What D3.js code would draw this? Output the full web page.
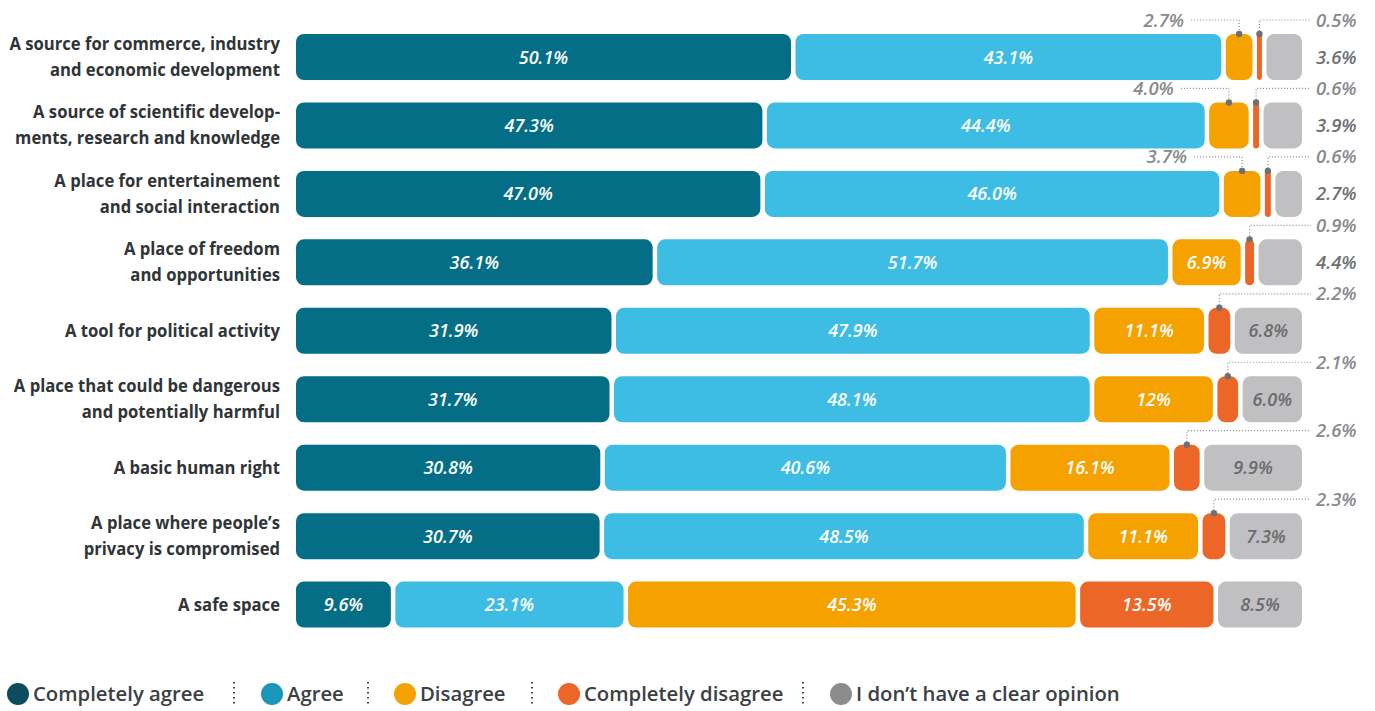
<!DOCTYPE html>
<html><head><meta charset="utf-8">
<script src="https://cdn.jsdelivr.net/npm/d3@7"></script>
<style>
body{margin:0;background:#fff;}
svg{display:block;}
</style></head>
<body>
<svg id="c" width="1375" height="711"></svg>
<script>
const categories = [
  ["A source for commerce, industry","and economic development"],
  ["A source of scientific develop-","ments, research and knowledge"],
  ["A place for entertainement","and social interaction"],
  ["A place of freedom","and opportunities"],
  ["A tool for political activity"],
  ["A place that could be dangerous","and potentially harmful"],
  ["A basic human right"],
  ["A place where people’s","privacy is compromised"],
  ["A safe space"]
];
const seriesNames = ["Completely agree","Agree","Disagree","Completely disagree","I don’t have a clear opinion"];
const completelyAgree    = ["50.1","47.3","47.0","36.1","31.9","31.7","30.8","30.7","9.6"];
const agree              = ["43.1","44.4","46.0","51.7","47.9","48.1","40.6","48.5","23.1"];
const disagree           = ["2.7","4.0","3.7","6.9","11.1","12","16.1","11.1","45.3"];
const completelyDisagree = ["0.5","0.6","0.6","0.9","2.2","2.1","2.6","2.3","13.5"];
const noOpinion          = ["3.6","3.9","2.7","4.4","6.8","6.0","9.9","7.3","8.5"];

const series = [completelyAgree, agree, disagree, completelyDisagree, noOpinion];
const barColors = ["#036e86","#3ebde4","#f5a100","#ec6628","#c0c0c2"];
const legendColors = ["#0b4d5c","#1996b9","#f5a100","#ec6628","#8c8c8c"];
const labelColors = ["#ffffff","#ffffff","#ffffff","#ffffff","#6b6b6d"];

const svg = d3.select("#c");
const x0 = 296, x1 = 1302, gap = 4.5;
const rowStep = 68.45, barH = 46, firstTop = 34;
const y = d3.scaleLinear().domain([0, 1]).range([firstTop, firstTop + rowStep]);
const yTop = i => y(i);

const font = "'Open Sans', sans-serif";

categories.forEach((lines, i) => {
  const vals = series.map(s => +s[i]);
  const total = d3.sum(vals);
  const avail = (x1 - x0) - gap * (vals.length - 1);
  const xs = d3.scaleLinear().domain([0, total]).range([0, avail]);
  let cur = x0;
  const top = yTop(i), cy = top + barH / 2;
  const g = svg.append("g");
  const t = g.append("text").attr("text-anchor","end").attr("font-family",font)
    .attr("font-weight",700).attr("font-size",18).attr("fill","#2f3437")
    .attr("transform", `translate(280,0) scale(0.925,1)`);
  const n = lines.length;
  lines.forEach((ln, k) => {
    t.append("tspan").attr("x",0).attr("y", cy + (k - (n-1)/2) * 26 + 6).text(ln);
  });
  vals.forEach((v, j) => {
    const w = xs(v);
    const sx = cur;
    g.append("rect").attr("x", sx).attr("y", top).attr("width", w).attr("height", barH)
      .attr("rx", Math.min(8, w/2)).attr("ry", Math.min(8, w/2)).attr("fill", barColors[j]);
    const lbl = series[j][i] + "%";
    const cx = sx + w / 2;
    if (w > 48) {
      g.append("text").attr("x", cx).attr("y", cy + 6.5).attr("text-anchor","middle")
        .attr("font-family",font).attr("font-style","italic").attr("font-weight",600)
        .attr("font-size",18).attr("fill",labelColors[j]).text(lbl);
    } else if (j === 4) {
      g.append("text").attr("x", 1316).attr("y", cy + 6.5).attr("font-family",font)
        .attr("font-style","italic").attr("font-weight",600).attr("font-size",18.5)
        .attr("fill","#6f6f71").text(lbl);
    } else {
      const ly = top - 14;
      const lineG = g.append("g").attr("stroke","#8a8a8a").attr("stroke-width",1.2)
        .attr("stroke-dasharray","1,2").attr("fill","none");
      if (j === 2) {
        lineG.append("path").attr("d", `M${cx-48},${ly}H${cx}V${top}`);
        g.append("text").attr("x", cx - 55).attr("y", ly + 6.5).attr("text-anchor","end")
          .attr("font-family",font).attr("font-style","italic").attr("font-weight",600)
          .attr("font-size",18.5).attr("fill","#8a8a8c").text(lbl);
      } else {
        lineG.append("path").attr("d", `M${cx},${top}V${ly}H1311`);
        g.append("text").attr("x", 1316).attr("y", ly + 6.5)
          .attr("font-family",font).attr("font-style","italic").attr("font-weight",600)
          .attr("font-size",18.5).attr("fill","#8a8a8c").text(lbl);
      }
      g.append("circle").attr("cx", cx).attr("cy", top).attr("r", 3.2).attr("fill","#707072");
    }
    cur += w + gap;
  });
});

// legend
const legX = [18, 272, 405, 569, 841];
const sepX = [234, 368, 532, 803];
const ly = 694;
const leg = svg.append("g");
seriesNames.forEach((name, j) => {
  leg.append("circle").attr("cx", legX[j]).attr("cy", ly).attr("r", 11).attr("fill", legendColors[j]);
  leg.append("text").attr("x", legX[j] + 15).attr("y", ly + 7).attr("font-family",font)
    .attr("font-weight",600).attr("font-size",20.3).attr("fill","#3a4044").text(name);
});
sepX.forEach(sx => {
  leg.append("line").attr("x1",sx).attr("x2",sx).attr("y1",ly-12).attr("y2",ly+13)
    .attr("stroke","#444").attr("stroke-width",2).attr("stroke-dasharray","1.5,3.5");
});
</script>
</body></html>
